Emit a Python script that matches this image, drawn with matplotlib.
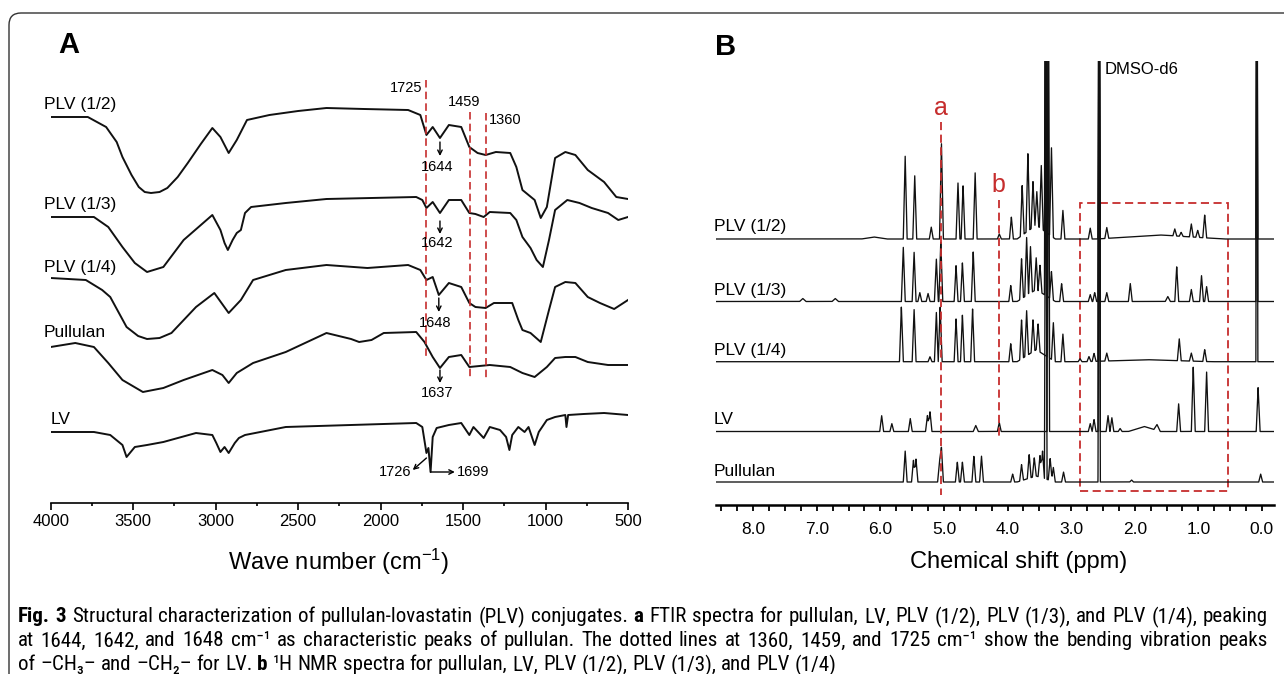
import matplotlib
matplotlib.use("Agg")
import matplotlib.pyplot as plt
import numpy as np
from matplotlib import font_manager
from matplotlib.patches import FancyBboxPatch, Rectangle
from matplotlib.transforms import IdentityTransform

W, H = 1284, 674
RED = '#c62d2d'

plt.rcParams['font.family'] = ['Liberation Sans', 'DejaVu Sans']
plt.rcParams['mathtext.fontset'] = 'custom'
plt.rcParams['mathtext.rm'] = 'Liberation Sans'
plt.rcParams['mathtext.it'] = 'Liberation Sans:italic'
plt.rcParams['mathtext.bf'] = 'Liberation Sans:bold'

# ---- FTIR (panel A): wave number and relative transmittance for each sample
wn_plv12 = [4000, 3775, 3664, 3600, 3565, 3510, 3466, 3430, 3392, 3340, 3293, 3230, 3169, 3090, 3020,
            2971, 2921, 2872, 2810, 2674, 2500, 2328, 2100, 1833, 1759, 1722, 1684, 1640, 1586, 1511,
            1462, 1412, 1363, 1301, 1214, 1177, 1140, 1066, 1029, 992, 942, 880, 819, 744, 645, 571, 500]
t_plv12 = [0, 0, -10, -25, -40, -58, -70, -75, -76, -75, -71, -60, -46, -27, -11,
           -20, -36, -23, -3, 2, 6, 9, 8, 7, 2, -18, -10, -21, -8, -10,
           -30, -36, -38, -35, -36, -50, -73, -83, -101, -90, -41, -35, -38, -53, -65, -80, -82]

wn_plv13 = [4000, 3738, 3651, 3565, 3490, 3416, 3317, 3194, 3020, 2971, 2946, 2926, 2897, 2872, 2847,
            2822, 2785, 2575, 2328, 1784, 1747, 1722, 1684, 1640, 1586, 1511, 1462, 1425, 1375, 1338,
            1214, 1177, 1140, 1091, 1054, 1016, 979, 942, 868, 794, 720, 621, 559, 500]
t_plv13 = [0, 0, -10, -30, -46, -55, -50, -23, 2, -13, -26, -33, -23, -16, -13,
           4, 10, 14, 18, 20, 17, 9, 15, 4, 17, 17, 4, 3, 0, 5,
           4, -3, -20, -31, -43, -50, -23, 7, 17, 14, 9, 4, -3, 0]

wn_plv14 = [4000, 3787, 3688, 3639, 3540, 3470, 3416, 3340, 3268, 3119, 3008, 2921, 2847, 2773, 2575,
            2328, 2080, 1833, 1759, 1722, 1684, 1647, 1586, 1511, 1462, 1425, 1363, 1313, 1202, 1165,
            1140, 1091, 1029, 979, 942, 880, 819, 744, 670, 584, 500]
t_plv14 = [0, -2, -12, -19, -49, -58, -61, -60, -55, -29, -15, -35, -22, -2, 8,
           13, 10, 13, 8, -2, 1, -17, -5, -9, -25, -29, -30, -25, -25, -42,
           -52, -55, -64, -32, -9, -4, -5, -19, -25, -31, -22]

wn_pul = [4000, 3851, 3738, 3651, 3565, 3441, 3317, 3194, 3020, 2959, 2921, 2872, 2773, 2575, 2328,
          2179, 2130, 2055, 1981, 1784, 1734, 1684, 1640, 1586, 1511, 1462, 1338, 1214, 1140, 1066,
          992, 942, 880, 819, 744, 621, 500]
t_pul = [0, 4, 0, -16, -33, -45, -41, -33, -23, -28, -36, -26, -16, -5, 14,
         8, 5, 7, 14, 15, 5, -10, -21, -10, -8, -20, -18, -20, -26, -30,
         -20, -11, -10, -10, -15, -18, -18]

wn_lv = [4000, 3738, 3639, 3565, 3540, 3490, 3416, 3317, 3119, 3020, 2996, 2971, 2946, 2921, 2884,
         2859, 2822, 2575, 1784, 1747, 1722, 1710, 1697, 1684, 1660, 1586, 1511, 1462, 1437, 1375,
         1338, 1276, 1239, 1219, 1202, 1165, 1127, 1103, 1066, 1041, 992, 942, 880, 873, 863,
         769, 645, 500]
t_lv = [0, 0, -3, -13, -25, -15, -13, -10, -1, -3, -11, -20, -15, -21, -11,
        -6, -3, 5, 9, 5, -21, -16, -40, -5, 4, 7, 9, -3, 5, -6,
        5, 2, -5, -18, -3, 5, 0, 5, -13, 0, 12, 15, 17, 5, 17,
        18, 19, 17]

ftir_names = ['PLV (1/2)', 'PLV (1/3)', 'PLV (1/4)', 'Pullulan', 'LV']
ftir_wn = [wn_plv12, wn_plv13, wn_plv14, wn_pul, wn_lv]
ftir_t = [t_plv12, t_plv13, t_plv14, t_pul, t_lv]
ftir_offset = [117, 217, 278, 347, 432]
ftir_label_y = [105, 205, 268, 333, 420]
ftir_lines = [1725, 1459, 1360]

# ---- 1H NMR (panel B): peaks as (ppm, height, half width)
nmr_plv12 = [(6.1, 2, 0.2), (5.61, 83, .03), (5.46, 64, .03), (5.20, 12, .03), (5.04, 97, .03),
             (4.78, 57, .03), (4.70, 54, .03), (4.51, 67, .03), (4.13, 5, .03), (3.94, 22, .03),
             (3.77, 50, .03), (3.68, 78, .03), (3.60, 46, .03), (3.54, 34, .03), (3.47, 64, .03),
             (3.55, 14, 0.3), (3.40, 450, .02), (3.31, 90, .03), (3.13, 29, .03), (2.70, 11, .03),
             (2.56, 450, .018), (2.44, 11, .03), (1.6, 4, 1.0), (1.37, 7, .03), (1.27, 4, .03),
             (1.11, 13, .03), (1.01, 7, .03), (0.90, 23, .03), (0.08, 450, .015)]
nmr_plv13 = [(7.22, 3, .05), (6.71, 3, .05), (5.64, 55, .03), (5.47, 50, .03), (5.38, 9, .03),
             (5.25, 8, .03), (5.12, 43, .03), (5.05, 60, .03), (4.81, 36, .03), (4.71, 39, .03),
             (4.54, 50, .03), (3.95, 16, .03), (3.78, 40, .03), (3.70, 58, .03), (3.64, 47, .03),
             (3.55, 32, .03), (3.49, 27, .03), (3.55, 12, 0.3), (3.40, 450, .02), (3.31, 28, .03),
             (3.15, 18, .03), (2.70, 7, .03), (2.63, 9, .03), (2.56, 450, .018), (2.44, 9, .03),
             (2.07, 18, .03), (1.48, 5, .04), (1.34, 35, .03), (1.11, 12, .03), (0.95, 26, .03),
             (0.87, 15, .03), (0.08, 450, .015)]
nmr_plv14 = [(5.67, 55, .03), (5.47, 53, .03), (5.22, 5, .03), (5.12, 50, .03), (5.06, 55, .03),
             (4.81, 43, .03), (4.71, 47, .03), (4.55, 53, .03), (3.95, 18, .03), (3.78, 39, .03),
             (3.70, 45, .03), (3.60, 32, .03), (3.52, 27, .03), (3.55, 12, 0.3), (3.36, 450, .02),
             (3.28, 38, .03), (3.13, 28, .03), (2.86, 3, .03), (2.72, 5, .03), (2.64, 8, .03),
             (2.56, 450, .018), (2.44, 8, .03), (1.8, 2, 1.0), (1.30, 22, .03), (1.11, 8, .03),
             (0.90, 12, .03), (0.08, 450, .015)]
nmr_lv = [(5.98, 16, .03), (5.82, 8, .03), (5.53, 13, .03), (5.26, 16, .03), (5.22, 20, .03),
          (4.50, 6, .04), (4.13, 9, .03), (3.36, 450, .02), (2.70, 8, .03), (2.64, 12, .03),
          (2.56, 450, .018), (2.42, 16, .03), (2.36, 14, .03), (2.23, 3, .03), (1.85, 5, 0.25),
          (1.65, 6, .05), (1.31, 28, .03), (1.08, 65, .03), (0.87, 60, .03), (0.06, 44, .03)]
nmr_pul = [(5.61, 31, .03), (5.48, 22, .03), (5.44, 23, .03), (5.07, 21, .03), (5.04, 35, .03),
           (4.79, 20, .03), (4.71, 20, .03), (4.53, 26, .03), (4.41, 26, .03), (3.92, 8, .03),
           (3.78, 16, .03), (3.66, 24, .03), (3.58, 19, .03), (3.49, 22, .03), (3.45, 27, .03),
           (3.55, 6, 0.3), (3.40, 450, .02), (3.33, 22, .03), (3.28, 14, .03), (3.12, 10, .03),
           (2.56, 450, .018), (2.05, 2, .03), (0.02, 8, .03)]

nmr_names = ['PLV (1/2)', 'PLV (1/3)', 'PLV (1/4)', 'LV', 'Pullulan']
nmr_peaks = [nmr_plv12, nmr_plv13, nmr_plv14, nmr_lv, nmr_pul]
nmr_baseline = [239, 301.5, 361.7, 431.5, 482]
nmr_label_y = [227, 290, 350, 420, 471]


def fx(x):
    return x / W


def fy(y):
    return 1 - y / H


fig = plt.figure(figsize=(W / 100, H / 100), dpi=100)

# frame round the whole figure
frame = FancyBboxPatch((9, -30), 1320, 661 + 30, boxstyle='round,pad=0,rounding_size=12',
                       transform=IdentityTransform(), fill=False, ec='#333333', lw=1.0)
fig.add_artist(frame)

# ---------------- panel A
axA = fig.add_axes([fx(50.7), fy(503), fx(628) - fx(50.7), fy(60) - fy(503)])
axA.set_xlim(4000, 500)
axA.set_ylim(-503, -60)
for s in ['left', 'right', 'top']:
    axA.spines[s].set_visible(False)
axA.spines['bottom'].set_linewidth(1.2)
axA.set_yticks([])
axA.set_xticks(np.arange(4000, 499, -500))
axA.set_xticks(np.arange(3750, 500, -500), minor=True)
axA.tick_params(axis='x', which='major', direction='out', length=5, width=1.2, pad=3, labelsize=12)
axA.tick_params(axis='x', which='minor', direction='out', length=2.5, width=1.2)
axA.patch.set_alpha(0)

for wn, t, off, name, ly in zip(ftir_wn, ftir_t, ftir_offset, ftir_names, ftir_label_y):
    axA.plot(wn, -off + np.array(t), color='#111111', lw=1.4, solid_joinstyle='round')
    axA.text(4040 if name != 'LV' else 4000, -ly, name, fontsize=12.5, ha='left', va='center')

line_top = [80, 112, 113]
line_bot = [360, 380, 380]
for v, t0, t1 in zip(ftir_lines, line_top, line_bot):
    axA.plot([v, v], [-t0, -t1], color=RED, lw=1.2, ls=(0, (4.5, 2.5)))
axA.text(1745, -88, '1725', fontsize=10.5, ha='right', va='center')
axA.text(1491, -102, '1459', fontsize=10.5, ha='center', va='center')
axA.text(1343, -120, '1360', fontsize=10.5, ha='left', va='center')

arrow = dict(arrowstyle='->', lw=1.0, color='k', shrinkA=0, shrinkB=0, mutation_scale=8)
for lab, x, y0, y1, ty in [('1644', 1640, 142, 156, 167), ('1642', 1640, 221, 234, 243),
                           ('1648', 1647, 298, 312, 323), ('1637', 1640, 370, 383, 393)]:
    axA.annotate('', xy=(x, -y1), xytext=(x, -y0), arrowprops=arrow)
    axA.text(x + 20, -ty, lab, fontsize=10.5, ha='center', va='center')
axA.annotate('', xy=(1805, -470), xytext=(1722, -458), arrowprops=arrow)
axA.text(1815, -472, '1726', fontsize=10.5, ha='right', va='center')
axA.annotate('', xy=(1550, -472), xytext=(1697, -472), arrowprops=arrow)
axA.text(1537, -472, '1699', fontsize=10.5, ha='left', va='center')

fig.text(fx(69), fy(45), 'A', fontsize=21, fontweight='bold', ha='center', va='center')
fig.text(fx(339), fy(562), 'Wave number (cm$^{-1}$)', fontsize=17, ha='center', va='center')

# ---------------- panel B
axB = fig.add_axes([fx(716), fy(505), fx(1274) - fx(716), fy(61) - fy(505)])
axB.set_xlim(8.585, -0.19)
axB.set_ylim(-505, -61)
for s in ['left', 'right', 'top']:
    axB.spines[s].set_visible(False)
axB.spines['bottom'].set_linewidth(1.8)
axB.set_yticks([])
axB.set_xticks(np.arange(0, 8.5, 1.0))
axB.set_xticklabels([f'{v:.1f}' for v in np.arange(0, 8.5, 1.0)])
axB.set_xticks(np.arange(0, 8.6, 0.25), minor=True)
axB.tick_params(axis='x', which='both', direction='out', length=4, width=1.3)
axB.tick_params(axis='x', which='major', pad=8.5, labelsize=12.5)
axB.patch.set_alpha(0)

ppm = np.linspace(8.585, -0.19, 8000)
for peaks, base, name, ly in zip(nmr_peaks, nmr_baseline, nmr_names, nmr_label_y):
    spec = np.zeros_like(ppm)
    for p, h, w in peaks:
        spec += h * np.clip(1 - np.abs(ppm - p) / w, 0, None)
    axB.plot(ppm, -base + spec, color='#111111', lw=0.95)
    axB.text(8.62, -ly, name, fontsize=12.5, ha='left', va='center', clip_on=False)

axB.plot([5.04, 5.04], [-122, -495], color=RED, lw=1.3, ls=(0, (4.5, 2.5)))
axB.plot([4.14, 4.14], [-200, -438], color=RED, lw=1.3, ls=(0, (4.5, 2.5)))
axB.add_patch(Rectangle((2.86, -491), 0.54 - 2.86, 491 - 203, fill=False, ec=RED, lw=1.3,
                        ls=(0, (4.5, 2.5))))
axB.text(5.04, -108, 'a', color=RED, fontsize=18, ha='center', va='center')
axB.text(4.14, -185, 'b', color=RED, fontsize=18, ha='center', va='center')
axB.text(2.47, -69, 'DMSO-d6', fontsize=12, ha='left', va='center')

fig.text(fx(726), fy(47), 'B', fontsize=21, fontweight='bold', ha='center', va='center')
fig.text(fx(1019), fy(562), 'Chemical shift (ppm)', fontsize=17, ha='center', va='center')

# ---------------- caption (condensed face if one is installed)
cap_family = ['Liberation Sans', 'DejaVu Sans']
cap_stretch = 'normal'
ttf = font_manager.fontManager.ttflist
names = {f.name for f in ttf}
for cand in ['Liberation Sans Narrow', 'Roboto Condensed', 'Open Sans Condensed']:
    if cand in names:
        cap_family = [cand, 'DejaVu Sans']
        break
else:
    for f in ttf:
        if f.name in ('Open Sans', 'Roboto', 'DejaVu Sans', 'Noto Sans') and 'condensed' in str(f.stretch):
            cap_family = [f.name, 'DejaVu Sans']
            cap_stretch = 'condensed'
            break

cap_lines = [
    [('Fig. 3', True), ('Structural characterization of pullulan-lovastatin (PLV) conjugates.', False),
     ('a', True), ('FTIR spectra for pullulan, LV, PLV (1/2), PLV (1/3), and PLV (1/4), peaking', False)],
    [('at 1644, 1642, and 1648 cm\u207b\u00b9 as characteristic peaks of pullulan. The dotted lines at 1360, '
      '1459, and 1725 cm\u207b\u00b9 show the bending vibration peaks', False)],
    [('of \u2013CH\u2083\u2013 and \u2013CH\u2082\u2013 for LV.', False), ('b', True),
     ('\u00b9H NMR spectra for pullulan, LV, PLV (1/2), PLV (1/3), and PLV (1/4)', False)],
]
cap_y = [617, 641, 665]
cap_x0, cap_x1 = 18, 1268

fig.canvas.draw()
renderer = fig.canvas.get_renderer()


def text_w(s, bold, fs):
    t = fig.text(0, 0, s, fontsize=fs, fontweight='bold' if bold else 'normal',
                 family=cap_family, fontstretch=cap_stretch)
    w = t.get_window_extent(renderer).width
    t.remove()
    return w


def words_of(line):
    out = []
    for s, b in line:
        out += [(w, b) for w in s.split()]
    return out


fs = 12.0
first = words_of(cap_lines[0])
space = text_w('a a', False, fs) - text_w('aa', False, fs)
natural = sum(text_w(w, b, fs) for w, b in first) + space * (len(first) - 1)
fs = min(16.5, fs * (cap_x1 - cap_x0) / natural * 0.985)
space = text_w('a a', False, fs) - text_w('aa', False, fs)

for i, (line, y) in enumerate(zip(cap_lines, cap_y)):
    ws = words_of(line)
    widths = [text_w(w, b, fs) for w, b in ws]
    if i < len(cap_lines) - 1:
        gap = (cap_x1 - cap_x0 - sum(widths)) / (len(ws) - 1)
    else:
        gap = space
    x = cap_x0
    for (w, b), wd in zip(ws, widths):
        fig.text(fx(x), fy(y), w, fontsize=fs, fontweight='bold' if b else 'normal',
                 family=cap_family, fontstretch=cap_stretch, ha='left', va='center')
        x += wd + gap

fig.savefig('out.png', dpi=100)
